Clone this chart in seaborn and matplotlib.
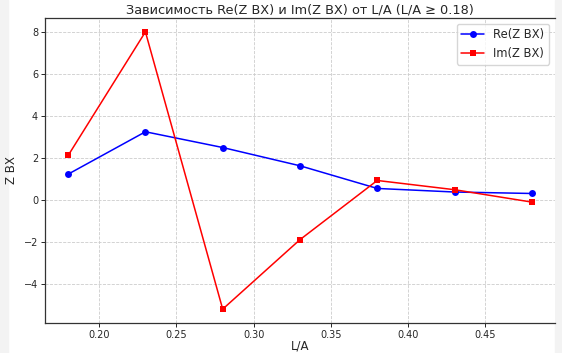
import pandas as pd
import matplotlib
matplotlib.use("Agg")
import matplotlib.pyplot as plt
from matplotlib.patches import Rectangle
import seaborn as sns

# Data
l_a = [0.18, 0.23, 0.28, 0.33, 0.38, 0.43, 0.48]
re_z = [1.22, 3.24, 2.49, 1.62, 0.54, 0.37, 0.30]
im_z = [2.11, 8.00, -5.21, -1.90, 0.92, 0.48, -0.11]

df = pd.DataFrame({"L/A": l_a, "Re(Z BX)": re_z, "Im(Z BX)": im_z})

sns.set_style("ticks")
plt.rcParams['font.family'] = ['DejaVu Sans']

fig, ax = plt.subplots(figsize=(5.62, 3.53), dpi=100)
fig.subplots_adjust(left=0.080, right=0.9875, top=0.949, bottom=0.085)

sns.lineplot(data=df, x="L/A", y="Re(Z BX)", color="blue", marker="o",
             markersize=5, markeredgewidth=0, linewidth=1.1,
             label="Re(Z BX)", ax=ax)
sns.lineplot(data=df, x="L/A", y="Im(Z BX)", color="red", marker="s",
             markersize=5, markeredgewidth=0, linewidth=1.1,
             label="Im(Z BX)", ax=ax)

ax.set_title("Зависимость Re(Z BX) и Im(Z BX) от L/A (L/A ≥ 0.18)",
             fontsize=9.3, pad=3)
ax.set_xlabel("L/A", fontsize=8.5, labelpad=0)
ax.set_ylabel("Z BX", fontsize=8.5, labelpad=4)
ax.tick_params(labelsize=7, length=3, width=0.7, pad=2)
ax.grid(True, linestyle="--", linewidth=0.6, color="#cccccc")
for s in ax.spines.values():
    s.set_linewidth(0.9)
    s.set_color("#333333")
ax.spines["right"].set_visible(False)
ax.legend(loc="upper right", fontsize=8.3, frameon=True)

# light screenshot margins at the edges
fig.patches.append(Rectangle((555 / 562, 0), 7 / 562, 1, transform=fig.transFigure,
                             color="#f3f3f3", zorder=-1))
fig.patches.append(Rectangle((0, 0), 8 / 562, 1, transform=fig.transFigure,
                             color="#f3f3f3", zorder=-1))

plt.savefig("out.png", dpi=100)
